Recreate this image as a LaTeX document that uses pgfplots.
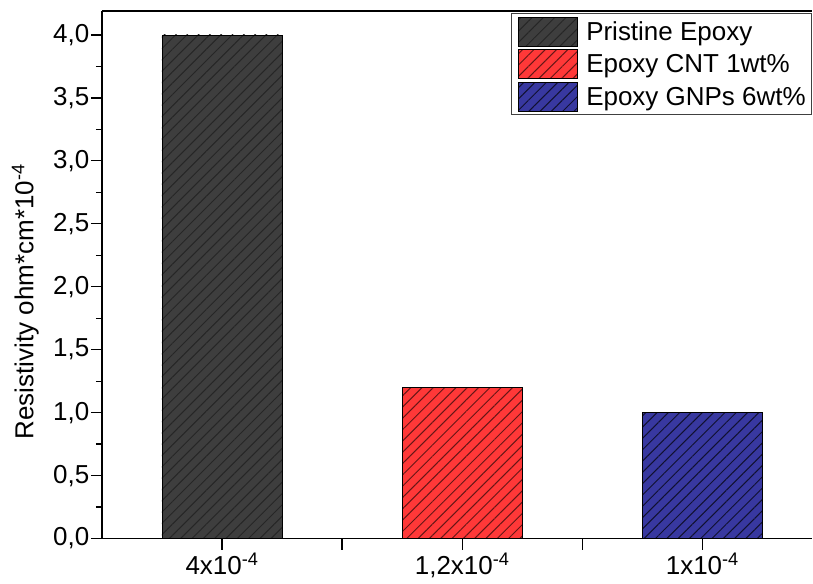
\documentclass[border=0pt]{standalone}
\usepackage{pgfplots}
\pgfplotsset{compat=1.18}
\usepackage{fontspec}
\setmainfont{Liberation Sans}
\usetikzlibrary{patterns.meta}
\definecolor{cgray}{HTML}{3E3E3E}
\definecolor{cred}{HTML}{FF3838}
\definecolor{cblue}{HTML}{3838A0}
\begin{document}
\begin{tikzpicture}
\begin{axis}[
  scale only axis,
  width=711pt, height=528pt,
  xmin=-0.5, xmax=2.458,
  ymin=0, ymax=4.19,
  axis x line*=bottom, axis y line*=left,
  axis line style={-, line width=1.3pt},
  tick style={line width=1.3pt, black},
  tick align=outside,
  major tick length=11pt, minor tick length=6pt,
  xtick={0,1,2},
  xticklabels={4x10\textsuperscript{-4},{1,2x10\textsuperscript{-4}},1x10\textsuperscript{-4}},
  extra x ticks={0.5,1.5},
  extra x tick labels={},
  ytick={0,0.5,...,4.0},
  minor y tick num=1,
  /pgf/number format/assume math mode=true,
  yticklabel style={/pgf/number format/fixed, /pgf/number format/fixed zerofill, /pgf/number format/precision=1, /pgf/number format/use comma, /tikz/inner sep=1.5pt},
  ticklabel style={font=\fontsize{26}{30}\selectfont},
  xticklabel style={inner sep=3pt},
  ylabel={Resistivity ohm*cm*10\textsuperscript{-4}},
  ylabel style={font=\fontsize{26}{30}\selectfont, at={(axis description cs:-0.0858,0.449)}, anchor=south, inner sep=2pt},
  legend style={at={(rel axis cs:1,0.996)}, anchor=north east, draw=black!75, line width=1.3pt,
    font=\fontsize{26}{30}\selectfont, inner xsep=6pt, inner ysep=3pt, row sep=3pt, column sep=9pt,
    nodes={inner sep=0pt}},
  legend cell align=left,
  legend image code/.code={\draw[#1, line width=0.6pt] (0pt,-14pt) rectangle (59pt,15pt);},
  clip=false,
]
\addplot[ybar, bar width=0.5, bar shift=0pt, draw=black, line width=0.6pt, fill=cgray,
  postaction={pattern={Lines[angle=45,distance=8pt,line width=1pt]}, pattern color=black!85}]
  coordinates {(0,4.0)};
\addlegendentry{Pristine Epoxy}
\addplot[ybar, bar width=0.5, bar shift=0pt, draw=black, line width=0.6pt, fill=cred,
  postaction={pattern={Lines[angle=45,distance=8pt,line width=1pt]}, pattern color=black!60!cred}]
  coordinates {(1,1.2)};
\addlegendentry{Epoxy CNT 1wt\%}
\addplot[ybar, bar width=0.5, bar shift=0pt, draw=black, line width=0.6pt, fill=cblue,
  postaction={pattern={Lines[angle=45,distance=8pt,line width=1pt]}, pattern color=black!70!cblue}]
  coordinates {(2,1.0)};
\addlegendentry{Epoxy GNPs 6wt\%}
\draw[line width=1.3pt] (rel axis cs:0,1) -- (rel axis cs:1,1);
\end{axis}
\path ([xshift=-102pt,yshift=-45pt]current axis.south west) rectangle ([yshift=11pt]current axis.north east);
\end{tikzpicture}
\end{document}
